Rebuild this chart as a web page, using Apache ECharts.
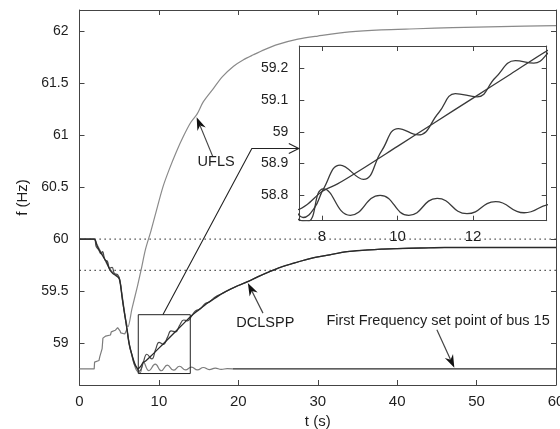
<!DOCTYPE html>
<html>
<head>
<meta charset="utf-8">
<script src="https://cdn.jsdelivr.net/npm/echarts@6/dist/echarts.min.js"></script>
<style>
  html, body { margin: 0; padding: 0; background: #fff; }
  #main { width: 560px; height: 429px; }
</style>
</head>
<body>
<div id="main"></div>
<script>
// UFLS response
const uflsT = [0, 1.85, 2.2, 2.6, 3.0, 3.4, 3.8, 4.2, 4.6, 5.0, 5.3, 5.6, 5.9, 6.1, 6.6, 7.3, 7.8, 8.3, 9.0, 9.6, 10.5, 11.3, 12.2, 13.1, 14.0, 14.8, 15.6, 16.9, 18.0, 19.4, 20.6, 21.9, 23.3, 25.0, 27.5, 30.0, 34.0, 38.0, 42.5, 47, 53, 60]
const uflsF = [60, 60, 59.95, 59.89, 59.84, 59.77, 59.72, 59.68, 59.66, 59.63, 59.5, 59.34, 59.2, 59.16, 59.33, 59.55, 59.72, 59.9, 60.08, 60.25, 60.5, 60.67, 60.84, 60.99, 61.12, 61.2, 61.32, 61.45, 61.56, 61.66, 61.72, 61.77, 61.82, 61.87, 61.92, 61.95, 61.99, 62.01, 62.02, 62.03, 62.04, 62.05]

// DCLSPP response (smooth)
const dclT = [0, 1.85, 2.2, 2.6, 3.0, 3.4, 3.8, 4.2, 4.6, 5.0, 5.3, 5.6, 5.9, 6.2, 6.5, 6.8, 7.1, 7.35, 7.6, 8.0, 8.4, 9.0, 10.0, 11.0, 12.0, 13.0, 14.0, 15, 16, 17, 18, 19, 20, 21.1, 22.5, 24, 25.3, 27, 29.4, 31.5, 33.7, 36, 38, 40, 43, 46, 50, 60]
const dclF = [60, 60, 59.94, 59.88, 59.83, 59.78, 59.71, 59.67, 59.65, 59.62, 59.48, 59.32, 59.18, 59.02, 58.92, 58.84, 58.78, 58.755, 58.77, 58.812, 58.835, 58.878, 58.954, 59.03, 59.106, 59.182, 59.258, 59.32, 59.38, 59.43, 59.48, 59.52, 59.555, 59.59, 59.64, 59.69, 59.73, 59.77, 59.82, 59.85, 59.88, 59.895, 59.905, 59.91, 59.915, 59.92, 59.92, 59.92]

// second response, oscillating around DCLSPP
const oscT = [0, 1.85, 2.1, 2.4, 2.7, 2.9, 3.2, 3.5, 3.8, 4.1, 4.4, 4.8, 5.1, 5.4, 5.7, 6.0, 6.3, 6.6, 6.9, 7.2, 7.5, 7.8, 8.04, 8.48, 9.1, 9.58, 10.02, 10.55, 11.09, 11.53, 12.11, 12.59, 13.12, 13.61, 14.05, 14.6, 15.2, 15.8, 16.4, 17.0, 18, 19, 20, 21.1, 22.5, 24, 25.3, 27, 29.4, 31.5, 33.7, 36, 38, 40, 43, 46, 50, 60]
const oscF = [60, 60, 59.93, 59.9, 59.86, 59.88, 59.8, 59.79, 59.72, 59.73, 59.67, 59.66, 59.6, 59.42, 59.27, 59.12, 58.97, 58.89, 58.8, 58.77, 58.73, 58.76, 58.82, 58.895, 58.85, 58.94, 59.01, 58.99, 59.06, 59.12, 59.11, 59.17, 59.224, 59.216, 59.255, 59.31, 59.33, 59.38, 59.4, 59.44, 59.48, 59.52, 59.555, 59.59, 59.64, 59.69, 59.73, 59.77, 59.82, 59.85, 59.88, 59.895, 59.905, 59.91, 59.915, 59.92, 59.92, 59.92]

// first frequency set point of bus 15
const stepT = [0, 1.85, 1.9, 2.45, 2.55, 2.8, 2.85, 2.95, 3.3, 3.9, 4.0, 4.5, 4.8, 5.1, 5.2, 5.7, 6.0]
const stepF = [58.755, 58.755, 58.82, 58.835, 58.87, 58.875, 58.95, 59.05, 59.07, 59.08, 59.11, 59.125, 59.15, 59.12, 59.1, 59.09, 59.14]
const spOscT = [6.0, 6.3, 6.6, 6.9, 7.2, 7.6, 8.04, 8.75, 9.54, 10.3, 11.05, 11.84, 12.6, 13.35, 14.1, 14.85, 15.6, 16.35, 17.1, 17.85, 18.6, 19.3]
const spOscF = [59.14, 58.98, 58.88, 58.8, 58.74, 58.716, 58.82, 58.737, 58.80, 58.737, 58.79, 58.742, 58.78, 58.745, 58.772, 58.745, 58.768, 58.748, 58.762, 58.75, 58.758, 58.755]
const spFlatT = [19.3, 60]
const spFlatF = [58.755, 58.755]

// reference levels and zoom window
const levels = [60, 59.7]
const zoomX = [7.4, 13.95]
const zoomY = [58.71, 59.275]

const xTicks = [0, 10, 20, 30, 40, 50, 60]
const yTicks = [59, 59.5, 60, 60.5, 61, 61.5, 62]
const inXTicks = [8, 10, 12]
const inYTicks = [58.8, 58.9, 59, 59.1, 59.2]

const zip = (a, b) => a.map((v, i) => [v, b[i]])

const FONT = 'Liberation Sans, Arial, Helvetica, sans-serif'
const INK = '#1e1e1e'
const FRAME = '#444'

const chart = echarts.init(document.getElementById('main'), null, { renderer: 'canvas' })

function frameAxis(type, grid, pos, min, max, ticks, labels, extra) {
  return Object.assign({
    type: 'value',
    gridIndex: grid,
    position: pos,
    min: min,
    max: max,
    splitLine: { show: false },
    axisLine: { show: true, onZero: false, lineStyle: { color: FRAME, width: 1 } },
    axisTick: { show: true, inside: true, length: 5, customValues: ticks, lineStyle: { color: FRAME } },
    axisLabel: labels
      ? { show: true, customValues: ticks, color: INK, fontFamily: FONT, fontSize: type === 'x' ? 15 : 14, margin: type === 'x' ? 9 : 11 }
      : { show: false },
  }, extra || {})
}

const mainLine = (name, data, color, width, smooth) => ({
  name: name,
  type: 'line',
  xAxisIndex: 0,
  yAxisIndex: 0,
  data: data,
  showSymbol: false,
  symbol: 'none',
  smooth: smooth || false,
  lineStyle: { color: color, width: width },
  silent: true,
  z: 3,
})

const insetLine = (data, smooth) => ({
  type: 'line',
  xAxisIndex: 2,
  yAxisIndex: 2,
  data: data,
  showSymbol: false,
  symbol: 'none',
  smooth: smooth || false,
  clip: true,
  lineStyle: { color: '#3a3a3a', width: 1.3 },
  silent: true,
  z: 12,
})

const option = {
  animation: false,
  backgroundColor: '#fff',
  grid: [
    { left: 79.5, top: 10, width: 476.5, height: 375, outerBoundsMode: 'none', containLabel: false },
    { left: 299.3, top: 46, width: 247.4, height: 174.7, outerBoundsMode: 'none', containLabel: false, show: true, backgroundColor: '#fff', borderWidth: 0, z: 10 },
  ],
  xAxis: [
    frameAxis('x', 0, 'bottom', 0, 60, xTicks, true, {
      name: 't (s)', nameLocation: 'middle', nameGap: 27,
      nameTextStyle: { color: INK, fontFamily: FONT, fontSize: 15 },
    }),
    frameAxis('x', 0, 'top', 0, 60, xTicks, false),
    frameAxis('x', 1, 'bottom', zoomX[0], zoomX[1], inXTicks, true, { z: 12 }),
    frameAxis('x', 1, 'top', zoomX[0], zoomX[1], inXTicks, false, { z: 12 }),
  ],
  yAxis: [
    frameAxis('y', 0, 'left', 58.6, 62.2, yTicks, true, {
      name: 'f (Hz)', nameLocation: 'middle', nameGap: 49, nameRotate: 90,
      nameTextStyle: { color: INK, fontFamily: FONT, fontSize: 15 },
    }),
    frameAxis('y', 0, 'right', 58.6, 62.2, yTicks, false),
    frameAxis('y', 1, 'left', zoomY[0] + 0.01, zoomY[1] - 0.005, inYTicks, true, { z: 12 }),
    frameAxis('y', 1, 'right', zoomY[0] + 0.01, zoomY[1] - 0.005, inYTicks, false, { z: 12 }),
  ],
  series: [
    Object.assign(mainLine('dotted60', zip([0, 60], [levels[0], levels[0]]), '#333', 1.3), { lineStyle: { color: '#333', width: 1.3, type: [1.3, 3.7] }, z: 2 }),
    Object.assign(mainLine('dotted597', zip([0, 60], [levels[1], levels[1]]), '#333', 1.3), { lineStyle: { color: '#333', width: 1.3, type: [1.3, 3.7] }, z: 2 }),
    mainLine('UFLS', zip(uflsT, uflsF), '#8a8a8a', 1.2, 0.3),
    mainLine('set point', zip(stepT, stepF), '#7c7c7c', 1.2),
    mainLine('set point osc', zip(spOscT, spOscF), '#7c7c7c', 1.2, 0.5),
    mainLine('set point flat', zip(spFlatT, spFlatF), '#2a2a2a', 1.3),
    mainLine('oscillating', zip(oscT, oscF), '#4a4a4a', 1.2, 0.45),
    mainLine('DCLSPP', zip(dclT, dclF), '#2a2a2a', 1.3, 0.3),
    mainLine('window', zip([zoomX[0], zoomX[1], zoomX[1], zoomX[0], zoomX[0]], [zoomY[0], zoomY[0], zoomY[1], zoomY[1], zoomY[0]]), '#222', 1),
    insetLine(zip(dclT, dclF), 0.3),
    insetLine(zip(oscT, oscF), 0.45),
    insetLine(zip(spOscT, spOscF), 0.5),
  ],
}

chart.setOption(option)

// annotations: arrows and texts placed in data coordinates
const px = (t, f) => chart.convertToPixel({ xAxisIndex: 0, yAxisIndex: 0 }, [t, f])

function arrow(tail, tip) {
  const a = px(tail[0], tail[1])
  const b = px(tip[0], tip[1])
  const dx = b[0] - a[0], dy = b[1] - a[1]
  const len = Math.sqrt(dx * dx + dy * dy)
  const ux = dx / len, uy = dy / len
  const L = 13, W = 4.5, N = 4
  const back = [b[0] - ux * L, b[1] - uy * L]
  const notch = [b[0] - ux * (L - N), b[1] - uy * (L - N)]
  return [
    { type: 'polyline', shape: { points: [a, notch] }, style: { stroke: '#444', lineWidth: 1.2 }, z: 20 },
    {
      type: 'polygon',
      shape: { points: [b, [back[0] - uy * W, back[1] + ux * W], notch, [back[0] + uy * W, back[1] - ux * W]] },
      style: { fill: '#111' }, z: 20,
    },
  ]
}

function label(text, t, f) {
  const p = px(t, f)
  return {
    type: 'text', x: p[0], y: p[1], z: 20,
    style: { text: text, fill: INK, font: '14.5px ' + FONT, align: 'center', verticalAlign: 'middle' },
  }
}

const rectTop = px(10.5, zoomY[1])
const bend = px(21.7, 60.87)
const insetLeft = chart.convertToPixel({ xAxisIndex: 2, yAxisIndex: 2 }, [zoomX[0], 59])[0]
const tipC = [insetLeft - 0.5, bend[1]]

const graphic = [].concat(
  arrow([16.8, 60.79], [14.75, 61.17]),
  [label('UFLS', 17.2, 60.74)],
  arrow([23.1, 59.29], [21.2, 59.58]),
  [label('DCLSPP', 23.4, 59.2)],
  arrow([45.0, 59.13], [47.2, 58.765]),
  [label('First Frequency set point of bus 15', 45.15, 59.21)],
  [
    { type: 'polyline', shape: { points: [rectTop, bend, tipC] }, style: { stroke: '#222', lineWidth: 1.1 }, z: 20 },
    { type: 'polyline', shape: { points: [[tipC[0] - 10, tipC[1] - 5], tipC, [tipC[0] - 10, tipC[1] + 5]] }, style: { stroke: '#222', lineWidth: 1.1, fill: null }, z: 20 },
  ]
)

chart.setOption({ graphic: graphic })
</script>
</body>
</html>
